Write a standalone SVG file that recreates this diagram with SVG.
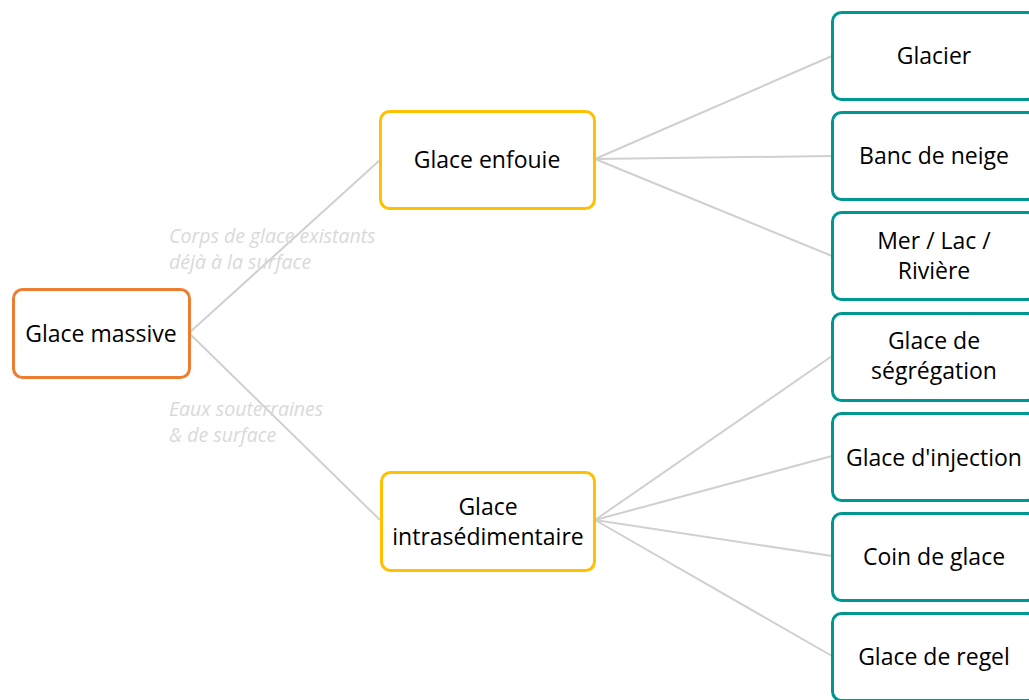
<svg xmlns="http://www.w3.org/2000/svg" width="1029" height="700" viewBox="0 0 1029 700">
  <style>
    .box { fill: #FFFFFF; stroke-width: 3; }
    .root { stroke: #ED7D31; }
    .mid { stroke: #FFC000; }
    .leaf { stroke: #009691; }
    .lbl { font-family: "Open Sans", "Liberation Sans", sans-serif; font-size: 23px; fill: #000000; text-anchor: middle; }
    .note { font-family: "Open Sans", "Liberation Sans", sans-serif; font-size: 19.5px; font-style: italic; fill: #D9D9D9; }
    .link { stroke: #D0D0D0; stroke-width: 2; fill: none; }
  </style>
  <rect width="1029" height="700" fill="#FFFFFF"/>

  <!-- connectors -->
  <g id="connectors">
    <path class="link" d="M189,333 L380,160"/>
    <path class="link" d="M189,333 L380,520"/>
    <path class="link" d="M595,159 L832,56"/>
    <path class="link" d="M595,159 L832,156"/>
    <path class="link" d="M595,159 L832,256"/>
    <path class="link" d="M595,520 L832,356"/>
    <path class="link" d="M595,520 L832,456"/>
    <path class="link" d="M595,520 L832,556"/>
    <path class="link" d="M595,520 L832,656"/>
  </g>

  <!-- edge notes -->
  <g id="notes">
    <text class="note" x="169" y="243">Corps de glace existants<tspan x="169" dy="26">déjà à la surface</tspan></text>
    <text class="note" x="169" y="416">Eaux souterraines<tspan x="169" dy="26">&amp; de surface</tspan></text>
  </g>

  <g id="glace-massive">
    <rect class="box root" x="13.5" y="289.5" width="176" height="88" rx="9"/>
    <text class="lbl" x="101" y="342">Glace massive</text>
  </g>

  <g id="glace-enfouie">
    <rect class="box mid" x="380.5" y="111.5" width="214" height="97" rx="9"/>
    <text class="lbl" x="487" y="168">Glace enfouie</text>
  </g>

  <g id="glace-intrasedimentaire">
    <rect class="box mid" x="381.5" y="472.5" width="213" height="98" rx="9"/>
    <text class="lbl" x="488" y="515">Glace<tspan x="488" dy="30">intrasédimentaire</tspan></text>
  </g>

  <g id="glacier">
    <rect class="box leaf" x="832.5" y="12.5" width="204" height="87" rx="9"/>
    <text class="lbl" x="934" y="64">Glacier</text>
  </g>

  <g id="banc-de-neige">
    <rect class="box leaf" x="832.5" y="112.5" width="204" height="87" rx="9"/>
    <text class="lbl" x="934" y="164">Banc de neige</text>
  </g>

  <g id="mer-lac-riviere">
    <rect class="box leaf" x="832.5" y="212.5" width="204" height="87" rx="9"/>
    <text class="lbl" x="934" y="249">Mer / Lac /<tspan x="934" dy="30">Rivière</tspan></text>
  </g>

  <g id="glace-de-segregation">
    <rect class="box leaf" x="832.5" y="313.5" width="204" height="87" rx="9"/>
    <text class="lbl" x="934" y="349">Glace de<tspan x="934" dy="30">ségrégation</tspan></text>
  </g>

  <g id="glace-d-injection">
    <rect class="box leaf" x="832.5" y="413.5" width="204" height="87" rx="9"/>
    <text class="lbl" x="934" y="466">Glace d'injection</text>
  </g>

  <g id="coin-de-glace">
    <rect class="box leaf" x="832.5" y="513.5" width="204" height="87" rx="9"/>
    <text class="lbl" x="934" y="565">Coin de glace</text>
  </g>

  <g id="glace-de-regel">
    <rect class="box leaf" x="832.5" y="613.5" width="204" height="87" rx="9"/>
    <text class="lbl" x="934" y="665">Glace de regel</text>
  </g>
</svg>
